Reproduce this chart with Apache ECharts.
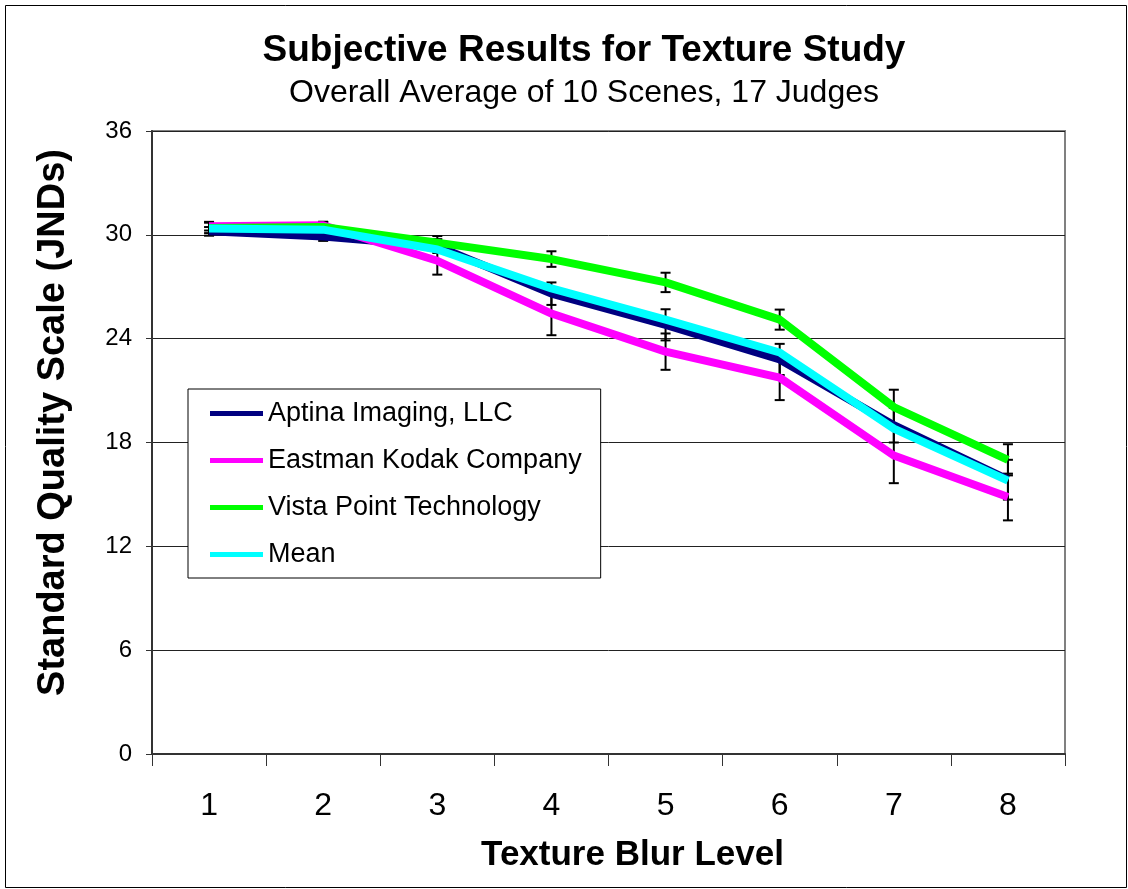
<!DOCTYPE html>
<html>
<head>
<meta charset="utf-8">
<script src="https://cdn.jsdelivr.net/npm/echarts@6/dist/echarts.min.js"></script>
<style>
html,body{margin:0;padding:0;background:#fff;}
#chart{width:1128px;height:889px;}
</style>
</head>
<body>
<div id="chart"></div>
<script>
const categories = ['1', '2', '3', '4', '5', '6', '7', '8'];
const seriesNames = ['Aptina Imaging, LLC', 'Eastman Kodak Company', 'Vista Point Technology', 'Mean'];
const aptina = [30.2, 29.9, 29.35, 26.6, 24.8, 22.8, 19.0, 15.85];
const kodak = [30.5, 30.55, 28.5, 25.45, 23.25, 21.75, 17.25, 14.85];
const vista = [30.4, 30.45, 29.55, 28.6, 27.25, 25.1, 20.05, 17.0];
const mean = [30.37, 30.3, 29.15, 26.9, 25.1, 23.2, 18.8, 15.8];
const aptinaErr = [0.25, 0.25, 0.4, 0.65, 0.9, 0.9, 1.0, 1.15];
const kodakErr = [0.25, 0.2, 0.8, 1.25, 1.05, 1.3, 1.6, 1.35];
const vistaErr = [0.3, 0.3, 0.38, 0.45, 0.56, 0.58, 1.0, 0.9];
const yMin = 0, yMax = 36, yStep = 6;

const colors = ['#000080', '#FF00FF', '#00FF00', '#00FFFF'];
const FONT = "'Liberation Sans', Arial, sans-serif";

function errData(vals, errs) {
  return vals.map((v, i) => [i, v - errs[i], v + errs[i]]);
}
function renderErr(params, api) {
  const x = api.value(0);
  const lo = api.coord([x, api.value(1)]);
  const hi = api.coord([x, api.value(2)]);
  const hw = 5;
  const st = { stroke: '#000', lineWidth: 2 };
  return {
    type: 'group',
    children: [
      { type: 'line', shape: { x1: lo[0], y1: lo[1], x2: hi[0], y2: hi[1] }, style: st },
      { type: 'line', shape: { x1: lo[0] - hw, y1: lo[1], x2: lo[0] + hw, y2: lo[1] }, style: st },
      { type: 'line', shape: { x1: hi[0] - hw, y1: hi[1], x2: hi[0] + hw, y2: hi[1] }, style: st }
    ]
  };
}
function errSeries(vals, errs) {
  return {
    type: 'custom', renderItem: renderErr, data: errData(vals, errs),
    encode: { x: 0, y: [1, 2] }, z: 1, silent: true
  };
}
function lineSeries(name, data, color) {
  return {
    name: name, type: 'line', data: data, showSymbol: false, symbol: 'none',
    lineStyle: { color: color, width: 8, join: 'round' }, itemStyle: { color: color },
    z: 2, silent: true
  };
}

const chart = echarts.init(document.getElementById('chart'), null, { renderer: 'canvas' });
chart.setOption({
  backgroundColor: '#fff',
  animation: false,
  textStyle: { fontFamily: FONT },
  title: [
    { text: 'Subjective Results for Texture Study', left: 579, top: 27, textAlign: 'center',
      textStyle: { fontFamily: FONT, fontSize: 37, fontWeight: 'bold', color: '#000' } },
    { text: 'Overall Average of 10 Scenes, 17 Judges', left: 579, top: 72, textAlign: 'center',
      textStyle: { fontFamily: FONT, fontSize: 32, fontWeight: 'normal', color: '#000' } }
  ],
  graphic: [
    { type: 'rect', left: 3, top: 3, shape: { width: 1121, height: 882 },
      style: { fill: 'none', stroke: '#000', lineWidth: 1 }, silent: true, z: -1 }
  ],
  legend: {
    data: seriesNames, orient: 'vertical', left: 188, top: 389,
    padding: [11, 19, 10, 22], itemGap: 20, itemWidth: 53, itemHeight: 5, icon: 'rect',
    backgroundColor: '#fff', borderColor: '#000', borderWidth: 1,
    textStyle: { fontFamily: FONT, fontSize: 27, color: '#000' },
    selectedMode: false, z: 10
  },
  grid: { left: 152, right: 63, top: 131, bottom: 135, show: true, borderColor: '#808080', borderWidth: 2, containLabel: false },
  xAxis: {
    type: 'category', data: categories, boundaryGap: true,
    name: 'Texture Blur Level', nameLocation: 'middle', nameGap: 84,
    nameTextStyle: { fontFamily: FONT, fontSize: 35, fontWeight: 'bold', color: '#000', padding: [0, 0, 0, 48] },
    axisLine: { lineStyle: { color: '#333', width: 2 } },
    axisTick: { show: true, inside: false, length: 12, alignWithLabel: false, lineStyle: { color: '#333', width: 1 } },
    axisLabel: { fontFamily: FONT, fontSize: 32, color: '#000', margin: 36 },
    splitLine: { show: false }
  },
  yAxis: {
    type: 'value', min: yMin, max: yMax, interval: yStep,
    name: 'Standard Quality Scale (JNDs)', nameLocation: 'middle', nameGap: 79, nameRotate: 90,
    nameTextStyle: { fontFamily: FONT, fontSize: 38, fontWeight: 'bold', color: '#000', padding: [0, 0, 0, 40] },
    axisLine: { show: true, lineStyle: { color: '#333', width: 2 } },
    axisTick: { show: true, inside: false, length: 6, lineStyle: { color: '#333', width: 1 } },
    axisLabel: { fontFamily: FONT, fontSize: 24, color: '#000', margin: 20 },
    splitLine: { show: true, lineStyle: { color: '#222', width: 1 } }
  },
  series: [
    errSeries(aptina, aptinaErr),
    errSeries(kodak, kodakErr),
    errSeries(vista, vistaErr),
    lineSeries(seriesNames[0], aptina, colors[0]),
    lineSeries(seriesNames[1], kodak, colors[1]),
    lineSeries(seriesNames[2], vista, colors[2]),
    lineSeries(seriesNames[3], mean, colors[3])
  ]
});
</script>
</body>
</html>
